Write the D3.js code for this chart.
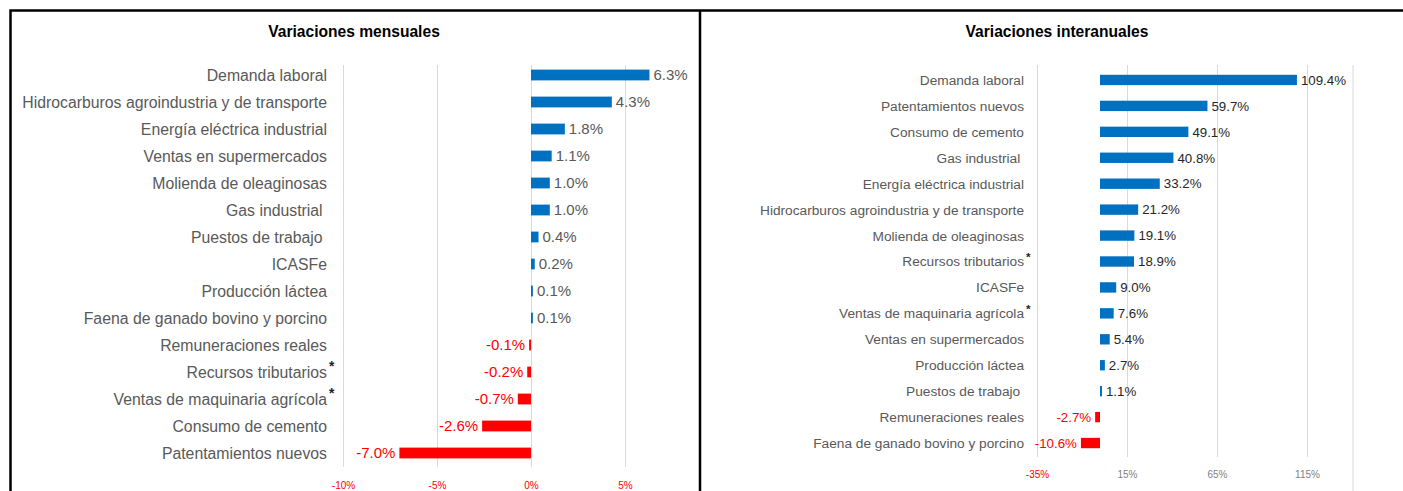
<!DOCTYPE html>
<html>
<head>
<meta charset="utf-8">
<script src="https://cdn.jsdelivr.net/npm/d3@7"></script>
<style>
  body { margin: 0; background: #fff; }
  svg { display: block; font-family: "Liberation Sans", Arial, sans-serif; }
  .cat { white-space: pre; }
</style>
</head>
<body>
<svg id="chart" width="1403" height="491"></svg>
<script>
// monthly variations (left panel), top to bottom
const mensualLabels = [
    "Demanda laboral",
    "Hidrocarburos agroindustria y de transporte",
    "Energía eléctrica industrial",
    "Ventas en supermercados",
    "Molienda de oleaginosas",
    "Gas industrial ",
    "Puestos de trabajo ",
    "ICASFe",
    "Producción láctea",
    "Faena de ganado bovino y porcino",
    "Remuneraciones reales",
    "Recursos tributarios*",
    "Ventas de maquinaria agrícola*",
    "Consumo de cemento",
    "Patentamientos nuevos"
];
const mensualValues = [6.3, 4.3, 1.8, 1.1, 1.0, 1.0, 0.4, 0.2, 0.1, 0.1, -0.1, -0.2, -0.7, -2.6, -7.0];
const mensualTicks = [-10, -5, 0, 5];

// year-on-year variations (right panel), top to bottom
const interanualLabels = [
    "Demanda laboral",
    "Patentamientos nuevos",
    "Consumo de cemento",
    "Gas industrial ",
    "Energía eléctrica industrial",
    "Hidrocarburos agroindustria y de transporte",
    "Molienda de oleaginosas",
    "Recursos tributarios*",
    "ICASFe",
    "Ventas de maquinaria agrícola*",
    "Ventas en supermercados",
    "Producción láctea",
    "Puestos de trabajo ",
    "Remuneraciones reales",
    "Faena de ganado bovino y porcino"
];
const interanualValues = [109.4, 59.7, 49.1, 40.8, 33.2, 21.2, 19.1, 18.9, 9.0, 7.6, 5.4, 2.7, 1.1, -2.7, -10.6];
const interanualTicks = [-35, 15, 65, 115];

const BLUE = "#0070C0",
    RED = "#FF0000",
    GRID = "#d9d9d9";

const svg = d3.select("#chart");

/**
 * Draws one horizontal bar panel.
 */
function drawPanel(cfg) {
    const g = svg.append("g");

    const x = d3.scaleLinear()
        .domain(cfg.domain)
        .range(cfg.xRange);

    const y = d3.scaleBand()
        .domain(cfg.labels)
        .range(cfg.yRange)
        .paddingInner(cfg.pad)
        .paddingOuter(cfg.pad / 2);

    // gridlines + tick labels
    const axis = g.append("g")
        .attr("transform", "translate(0," + cfg.gridBottom + ")")
        .call(d3.axisBottom(x)
            .tickValues(cfg.ticks)
            .tickSize(-(cfg.gridBottom - cfg.gridTop))
            .tickPadding(cfg.tickPad)
            .tickFormat(d => d + "%"));
    axis.select(".domain").remove();
    axis.selectAll(".tick line").attr("stroke", GRID);
    axis.selectAll(".tick text")
        .attr("font-family", "Liberation Sans, Arial, sans-serif")
        .attr("font-size", cfg.tickFont)
        .attr("fill", d => cfg.tickColour(d));

    if (cfg.extraLine) {
        g.append("line")
            .attr("x1", cfg.extraLine).attr("x2", cfg.extraLine)
            .attr("y1", cfg.gridTop).attr("y2", 491)
            .attr("stroke", GRID);
    }

    const rows = cfg.labels.map((l, i) => ({label: l, value: cfg.values[i]}));

    g.selectAll("rect.bar")
        .data(rows)
        .enter()
        .append("rect")
        .attr("class", "bar")
        .attr("x", d => x(Math.min(0, d.value)))
        .attr("width", d => Math.abs(x(d.value) - x(0)))
        .attr("y", d => y(d.label))
        .attr("height", y.bandwidth())
        .attr("fill", d => d.value < 0 ? RED : BLUE);

    // value labels
    g.selectAll("text.val")
        .data(rows)
        .enter()
        .append("text")
        .attr("class", "val")
        .attr("x", d => d.value < 0 ? x(d.value) - 4 : x(d.value) + 4)
        .attr("y", d => y(d.label) + y.bandwidth() / 2)
        .attr("dy", "0.36em")
        .attr("text-anchor", d => d.value < 0 ? "end" : "start")
        .attr("font-size", cfg.valFont)
        .attr("fill", d => d.value < 0 ? RED : cfg.valColour)
        .text(d => d.value.toFixed(1) + "%");

    // category labels, asterisk drawn as a superscript after the text
    const cats = g.selectAll("g.cat")
        .data(rows)
        .enter()
        .append("g")
        .attr("transform", d => "translate(" + cfg.labelX + "," + (y(d.label) + y.bandwidth() / 2) + ")");

    cats.append("text")
        .attr("class", "cat")
        .attr("text-anchor", "end")
        .attr("dy", "0.36em")
        .attr("font-size", cfg.catFont)
        .attr("fill", "#595959")
        .text(d => d.label.replace("*", ""));

    cats.filter(d => d.label.includes("*"))
        .append("text")
        .attr("x", 2)
        .attr("dy", "-0.05em")
        .attr("font-size", cfg.catFont - 2)
        .attr("font-weight", "bold")
        .attr("fill", "#222")
        .text("*");

    g.append("text")
        .attr("x", cfg.titleX)
        .attr("y", 37)
        .attr("text-anchor", "middle")
        .attr("font-size", 15.6)
        .attr("font-weight", "bold")
        .attr("fill", "#000")
        .text(cfg.title);
}

drawPanel({
    title: "Variaciones mensuales",
    titleX: 354,
    labels: mensualLabels,
    values: mensualValues,
    ticks: mensualTicks,
    domain: [-10, 5],
    xRange: [343, 625],
    yRange: [61.5, 466.5],
    pad: 0.6,
    gridTop: 65,
    gridBottom: 467,
    tickPad: 15,
    tickFont: 10,
    tickColour: () => RED,
    labelX: 327,
    catFont: 15.8,
    valFont: 15,
    valColour: "#595959"
});

drawPanel({
    title: "Variaciones interanuales",
    titleX: 1057,
    labels: interanualLabels,
    values: interanualValues,
    ticks: interanualTicks,
    domain: [-35, 115],
    xRange: [1037, 1307],
    yRange: [67, 456],
    pad: 0.6,
    gridTop: 65,
    gridBottom: 457,
    tickPad: 14,
    tickFont: 10,
    tickColour: d => d < 0 ? RED : "#7f7f7f",
    labelX: 1024,
    catFont: 13.7,
    valFont: 13.3,
    valColour: "#262626",
    extraLine: 1353
});

// panel frames
svg.append("path")
    .attr("d", "M10.5,491 V10.5 H1403 M700,10.5 V491")
    .attr("fill", "none")
    .attr("stroke", "#000")
    .attr("stroke-width", 2.5);
</script>
</body>
</html>
